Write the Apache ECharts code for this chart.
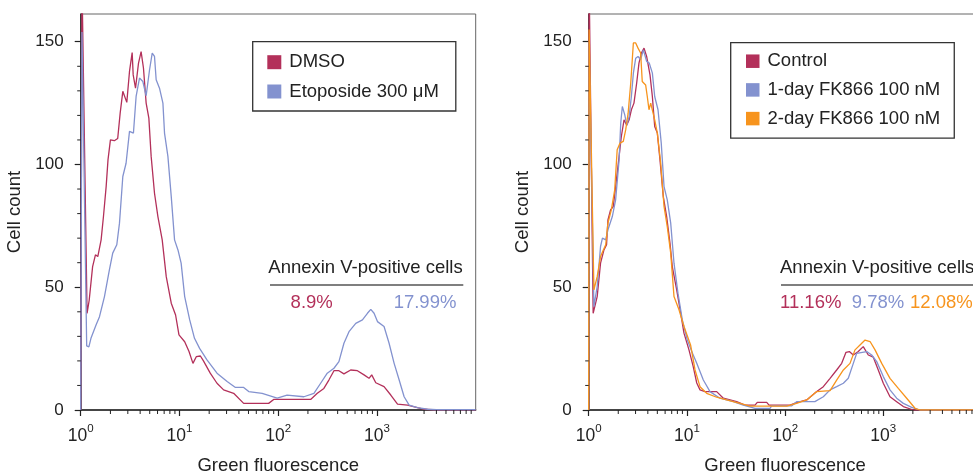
<!DOCTYPE html>
<html><head><meta charset="utf-8">
<script src="https://cdn.jsdelivr.net/npm/echarts@6/dist/echarts.min.js"></script>
<style>html,body{margin:0;padding:0;background:#fff}#c{width:973px;height:472px}</style>
</head><body><div id="c"></div>
<script>
// ---- data (x = green fluorescence, y = cell count) ----
const dmso = [[1,0],[1.02,0],[1.03,175],[1.07,175],[1.16,39.4],[1.22,44.8],[1.32,58.4],[1.41,63.2],[1.49,62.5],[1.61,69.3],[1.70,78.8],[1.81,91],[1.89,101.9],[2.0,110],[2.19,109.7],[2.37,110.6],[2.51,120.9],[2.67,129.8],[2.75,129],[2.93,125.3],[3.12,137.9],[3.32,145.6],[3.40,136.5],[3.59,131.1],[3.85,141.3],[4.09,146],[4.32,139.3],[4.6,125],[4.9,118.9],[5.17,103.3],[5.59,88.3],[6.05,78.8],[6.69,69.3],[7.35,54.3],[8.26,43.5],[9.14,38.7],[9.89,30.6],[11.3,27.8],[12.5,23.8],[13.7,19],[14.8,21.7],[16.3,22],[17.5,20],[20.5,15],[24,10.9],[28,8.2],[35.4,6.8],[44.7,2.7],[80,2.7],[90,4.3],[213,4.3],[249,6.8],[290,8.8],[326,12.2],[367,16],[412,16],[463,14.7],[542,16.3],[634,16],[740,14.3],[831,12.9],[885,14.3],[973,11.1],[1180,9.5],[1380,6.1],[1616,2.4],[2040,2],[2570,0.95],[3000,0.3],[4000,0],[10000,0]];
const etoposide = [[1,0],[1.025,0],[1.03,154],[1.06,154],[1.15,26.1],[1.21,25.7],[1.27,29.2],[1.43,34.6],[1.55,38],[1.74,46.2],[1.95,57],[2.11,63.9],[2.32,67.3],[2.47,76.1],[2.67,95.1],[2.88,100.5],[3.12,113.5],[3.42,112.8],[3.64,127.7],[3.94,135.2],[4.26,133.8],[4.6,128],[4.98,138.6],[5.30,145.4],[5.59,144],[5.81,134.5],[6.28,131.1],[6.80,125],[7.06,112.8],[7.64,103.3],[8.26,86.9],[8.92,69.3],[9.66,65.2],[10.4,59.8],[11.3,46.2],[12.7,36.7],[14.2,29.2],[16.0,25.1],[19,20.4],[24,15],[30.4,11.6],[36.9,9.2],[44.7,9.2],[50.3,7.5],[68.8,6.8],[97.7,4.8],[123,6.1],[182,5.4],[230,6.8],[269,10.9],[314,15],[367,17],[412,19.7],[463,27.2],[521,31.9],[610,35.3],[713,36.7],[801,39.4],[866,41],[935,39.4],[1012,36],[1180,34],[1327,27.2],[1493,19],[1679,12.2],[1885,5.4],[2118,2],[2570,1],[3258,0.3],[4000,0.1],[10000,0.1]];
const control = [[1,0],[1.01,175],[1.05,175],[1.11,39.4],[1.22,46.2],[1.32,59.8],[1.43,65.2],[1.52,67.3],[1.57,77.4],[1.67,81.5],[1.78,82.9],[1.88,91],[2.04,103.3],[2.15,111.4],[2.29,118.2],[2.44,116],[2.58,118.2],[2.72,122.3],[2.89,125],[3.08,133.2],[3.25,141.3],[3.44,145.4],[3.66,147.4],[3.89,144],[4.21,136.5],[4.45,127.7],[4.70,115.5],[5.0,112.8],[5.32,101.9],[5.75,86.9],[6.22,78.8],[6.73,67.9],[7.10,58.4],[7.87,48.9],[8.65,39.4],[9.34,31.3],[10.5,24.5],[11.6,17.7],[12.6,11],[13.6,8.2],[15.3,7.5],[20.1,7.5],[23.5,4.8],[32.1,3.4],[39,2],[49.4,2],[52.1,3.1],[65,3.1],[68.6,2],[112,2],[131,3],[166,4.1],[210,7.5],[245,9.5],[287,12.9],[335,16.3],[377,19],[417,23.5],[451,23.8],[495,22.4],[556,23.8],[625,25.8],[703,22.4],[791,21.5],[889,16.3],[1000,10.9],[1170,5.4],[1368,3.4],[1600,1.4],[2023,0],[10000,0]];
const fk1day = [[1,0],[1.01,150],[1.04,150],[1.13,42.1],[1.22,50.3],[1.32,66.6],[1.38,70],[1.49,69.3],[1.57,73.4],[1.74,78.8],[1.88,85.6],[2.04,101.9],[2.12,116.9],[2.20,123.6],[2.33,120.2],[2.44,116],[2.58,119.5],[2.72,127.7],[2.85,137.2],[3.01,143.3],[3.18,144],[3.38,142.7],[3.60,146.7],[3.89,142],[4.14,141.3],[4.45,137.2],[4.70,127.7],[5.08,122.3],[5.48,108.7],[5.85,91],[6.31,85.6],[6.84,76.1],[7.39,59.8],[8.11,47.6],[8.98,36.7],[10.1,28.5],[11.4,23.1],[12.6,19],[14.7,12.2],[17.2,7.5],[21.7,4.8],[29.7,3.4],[37.5,2],[49.4,0.7],[70.2,0.7],[73,1.7],[117,1.7],[131,3.4],[201,3.4],[245,5.4],[287,8.2],[335,9.5],[392,10.9],[440,12.9],[495,19],[536,23.1],[678,23.8],[762,22.4],[857,19.7],[1000,13.6],[1170,8.2],[1368,4.8],[1600,2.7],[1946,1.1],[2360,0],[10000,0]];
const fk2day = [[1,0],[1.01,155],[1.04,155],[1.13,48.9],[1.22,54.3],[1.32,62.5],[1.41,65.2],[1.49,67.3],[1.57,76.1],[1.70,81.5],[1.84,89.7],[1.95,106],[2.08,108.7],[2.25,109.4],[2.38,114.1],[2.52,120.9],[2.68,133.2],[2.85,149.5],[3.01,149.5],[3.18,147.4],[3.38,145.4],[3.51,133.8],[3.80,132.4],[3.95,127.7],[4.11,122.3],[4.28,125],[4.45,125.7],[4.7,118.2],[5.0,112.8],[5.41,100.5],[5.85,82.9],[6.31,74.7],[6.84,63.9],[7.39,46.2],[8.31,40.8],[9.34,34],[10.9,26.5],[12.1,16.3],[13.6,9.5],[15.9,6.8],[20.1,5.2],[25.4,4.1],[34.7,2.7],[44,1.6],[104,1.6],[131,2.7],[166,4.1],[210,7.5],[287,7.9],[335,12.2],[392,16.3],[458,19],[515,24.5],[579,26.5],[652,28.5],[733,27.9],[824,24.5],[964,19],[1170,12.9],[1422,8.8],[1730,4.8],[2104,0.7],[2360,0],[10000,0]];

const leftNames = ['DMSO','Etoposide 300 μM'];
const rightNames = ['Control','1-day FK866 100 nM','2-day FK866 100 nM'];
const leftPercents = ['8.9%','17.99%'];
const rightPercents = ['11.16%','9.78%','12.08%'];
const annotTitle = 'Annexin V-positive cells';
const yMajorTicks = [0,50,100,150];
const yMinorTicks = [10,20,30,40,60,70,80,90,110,120,130,140];
const xMinorTicks = [2,3,4,5,6,7,8,9,20,30,40,50,60,70,80,90,200,300,400,500,600,700,800,900,2000,3000,4000,5000,6000,7000,8000,9000];

const RED = '#b3305a', BLUE = '#8392cf', ORANGE = '#f7941d';
const FONT = 'Liberation Sans, Arial, Helvetica, sans-serif';
const AX = '#222';
const FS = 18.5;

const chart = echarts.init(document.getElementById('c'), null, {renderer:'canvas'});

function xAxisCfg(gi){
  return {
    type:'log', logBase:10, min:1, max:10000, gridIndex:gi,
    name:'Green fluorescence', nameLocation:'middle', nameGap:46,
    nameTextStyle:{fontSize:FS, color:AX, fontFamily:FONT},
    axisLine:{show:true, lineStyle:{color:AX, width:1.5}},
    axisTick:{show:true, length:6, lineStyle:{color:AX, width:1.2}},
    splitLine:{show:false}, minorTick:{show:false},
    axisLabel:{
      margin:13, showMaxLabel:false, color:AX,
      formatter:function(v){ return '{b|10}{s|' + Math.round(Math.log10(v)) + '}'; },
      rich:{
        b:{fontSize:17.5, fontFamily:FONT, color:AX, lineHeight:22, verticalAlign:'bottom'},
        s:{fontSize:11.5, fontFamily:FONT, color:AX, lineHeight:11, verticalAlign:'top'}
      }
    }
  };
}
function yAxisCfg(gi){
  return {
    type:'value', min:0, max:161.3, gridIndex:gi,
    name:'Cell count', nameLocation:'middle', nameGap:56,
    nameTextStyle:{fontSize:FS, color:AX, fontFamily:FONT},
    axisLine:{show:true, lineStyle:{color:AX, width:1.5}},
    axisTick:{show:true, length:6, customValues:yMajorTicks, lineStyle:{color:AX, width:1.2}},
    axisLabel:{customValues:yMajorTicks, margin:17, fontSize:17, color:AX, fontFamily:FONT},
    splitLine:{show:false}
  };
}
function minorXRender(params, api){
  const p = api.coord([api.value(0), api.value(1)]);
  return {type:'line', shape:{x1:p[0], y1:p[1], x2:p[0], y2:p[1]+4}, style:{stroke:AX, lineWidth:1}};
}
function minorYRender(params, api){
  const p = api.coord([api.value(0), api.value(1)]);
  return {type:'line', shape:{x1:p[0]-3.5, y1:p[1], x2:p[0], y2:p[1]}, style:{stroke:AX, lineWidth:1}};
}
function lineSeries(name, data, color, gi){
  return {type:'line', name:name, data:data, xAxisIndex:gi, yAxisIndex:gi,
    showSymbol:false, symbol:'none', color:color, itemStyle:{color:color},
    lineStyle:{color:color, width:1.3}, clip:true, animation:false};
}
function tickSeries(gi){
  return [
    {type:'custom', xAxisIndex:gi, yAxisIndex:gi, silent:true, clip:false, animation:false,
     data:xMinorTicks.map(v=>[v,0]), renderItem:minorXRender, z:5},
    {type:'custom', xAxisIndex:gi, yAxisIndex:gi, silent:true, clip:false, animation:false,
     data:yMinorTicks.map(v=>[1,v]), renderItem:minorYRender, z:5}
  ];
}
function legendCfg(names, left, top, padding, gap, size){
  return {
    data:names, orient:'vertical', left:left, top:top, padding:padding, itemGap:gap,
    itemWidth:size, itemHeight:size, icon:'rect', selectedMode:false,
    borderColor:'#333', borderWidth:1.3, backgroundColor:'#fff',
    textStyle:{fontSize:FS, color:AX, fontFamily:FONT, padding:[0,0,0,3]}
  };
}
const txt = (x,y,text,fill,align) => ({type:'text', x:x, y:y, silent:true,
  style:{text:text, fill:fill, font:FS + 'px ' + FONT, align:align||'left', verticalAlign:'middle'}});

chart.setOption({
  animation:false,
  backgroundColor:'#fff',
  grid:[
    {left:80.7, top:14, width:395, height:396, show:true, borderColor:'#666', borderWidth:1, backgroundColor:'transparent', containLabel:false, outerBoundsMode:'none'},
    {left:588.7, top:14, width:392.8, height:396, show:true, borderColor:'#666', borderWidth:1, backgroundColor:'transparent', containLabel:false, outerBoundsMode:'none'}
  ],
  xAxis:[xAxisCfg(0), xAxisCfg(1)],
  yAxis:[yAxisCfg(0), yAxisCfg(1)],
  legend:[
    legendCfg(leftNames, 252.7, 41.7, [11,17,10,14.6], 10.3, 14),
    legendCfg(rightNames, 730.7, 42.7, [9,14,10,15.3], 9.7, 13.5)
  ],
  series:[
    lineSeries(leftNames[0], dmso, RED, 0),
    lineSeries(leftNames[1], etoposide, BLUE, 0),
    lineSeries(rightNames[0], control, RED, 1),
    lineSeries(rightNames[1], fk1day, BLUE, 1),
    lineSeries(rightNames[2], fk2day, ORANGE, 1)
  ].concat(tickSeries(0), tickSeries(1)),
  graphic:[
    txt(268.3, 268, annotTitle, AX),
    {type:'line', silent:true, shape:{x1:270, y1:285, x2:463.3, y2:285}, style:{stroke:'#555', lineWidth:1.5}},
    txt(311.7, 303.3, leftPercents[0], RED, 'center'),
    txt(425, 303.3, leftPercents[1], BLUE, 'center'),
    txt(780, 268, annotTitle, AX),
    {type:'line', silent:true, shape:{x1:781, y1:285, x2:985, y2:285}, style:{stroke:'#555', lineWidth:1.5}},
    txt(780, 303.3, rightPercents[0], RED),
    txt(851.7, 303.3, rightPercents[1], BLUE),
    txt(910, 303.3, rightPercents[2], ORANGE)
  ]
});
</script>
</body></html>
